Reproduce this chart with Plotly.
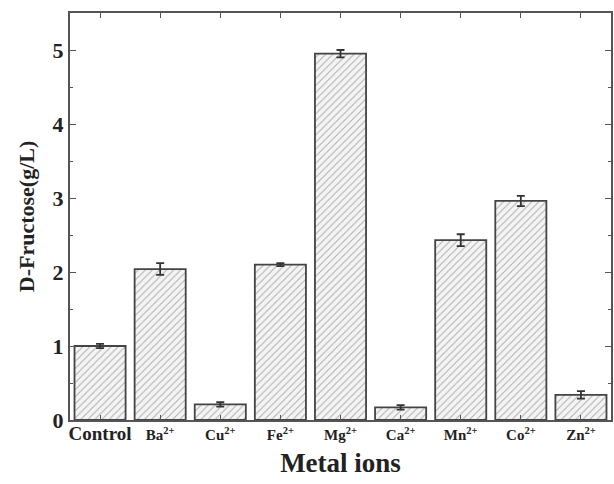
import plotly.graph_objects as go

categories = ["<span style='font-size:19px'>Control</span>", "Ba<sup>2+</sup>", "Cu<sup>2+</sup>",
              "Fe<sup>2+</sup>", "Mg<sup>2+</sup>", "Ca<sup>2+</sup>", "Mn<sup>2+</sup>",
              "Co<sup>2+</sup>", "Zn<sup>2+</sup>"]
fructose = [1.0, 2.04, 0.21, 2.1, 4.95, 0.17, 2.43, 2.96, 0.34]
errors = [0.03, 0.08, 0.03, 0.02, 0.05, 0.03, 0.08, 0.07, 0.05]
y_ticks = [0, 1, 2, 3, 4, 5]

font_family = "Liberation Serif, Times New Roman, serif"
axis_color = "#555555"

fig = go.Figure()
fig.add_trace(go.Bar(
    x=list(range(len(categories))),
    y=fructose,
    width=0.85,
    marker=dict(
        color="white",
        line=dict(color="#444444", width=1.8),
        pattern=dict(shape="/", fgcolor="#666666", bgcolor="#f4f4f4", size=5, solidity=0.2),
    ),
    error_y=dict(type="data", array=errors, visible=True, color="#333333", thickness=1.8, width=4),
))

fig.update_layout(
    width=614, height=484,
    margin=dict(l=70, r=3, t=13, b=64),
    paper_bgcolor="white", plot_bgcolor="white",
    showlegend=False,
    font=dict(family=font_family, color="#222222"),
    xaxis=dict(
        range=[-0.5, 8.5], automargin=False,
        tickmode="array", tickvals=list(range(len(categories))), ticktext=categories,
        tickfont=dict(size=15, family=font_family, weight="bold"),
        ticks="inside", ticklen=5, tickcolor=axis_color, tickwidth=1,
        showline=True, linecolor=axis_color, linewidth=2, mirror="ticks",
        showgrid=False, zeroline=False,
        title=dict(text="<b>Metal ions</b>", font=dict(size=27, family=font_family), standoff=10),
    ),
    yaxis=dict(
        range=[0, 5.5], automargin=False,
        tickmode="array", tickvals=y_ticks, ticktext=[str(v) for v in y_ticks],
        tickfont=dict(size=22, family=font_family, weight="bold"),
        ticks="inside", ticklen=6, tickcolor=axis_color, tickwidth=1,
        minor=dict(ticks="inside", ticklen=3, tickcolor=axis_color, dtick=0.5, tick0=0),
        showline=True, linecolor=axis_color, linewidth=2, mirror="ticks",
        showgrid=False, zeroline=False,
        title=dict(text="<b>D-Fructose(g/L)</b>", font=dict(size=22, family=font_family), standoff=12),
    ),
)

fig.write_html("out.html", config={"displayModeBar": False},
               post_script="document.body.style.margin='0';document.body.style.overflow='hidden';")
